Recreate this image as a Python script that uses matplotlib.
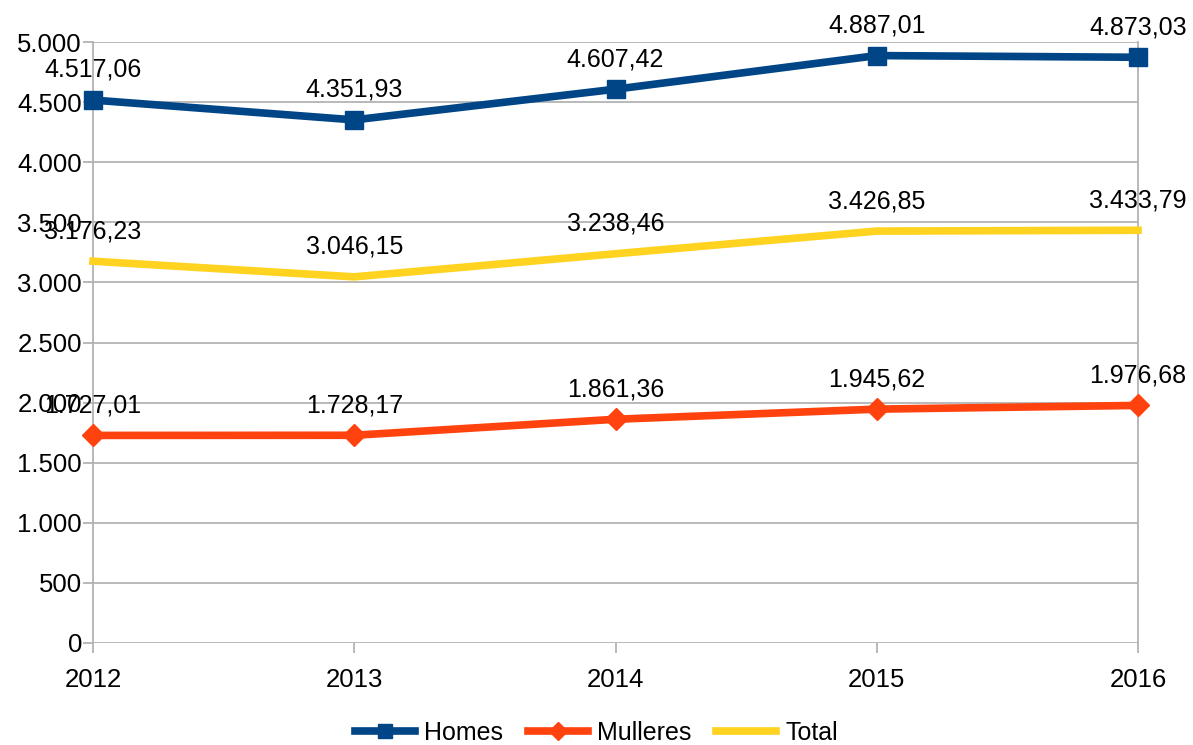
import matplotlib
matplotlib.use("Agg")
import matplotlib.pyplot as plt

# data
years = [2012, 2013, 2014, 2015, 2016]
homes = [4517.06, 4351.93, 4607.42, 4887.01, 4873.03]
mulleres = [1727.01, 1728.17, 1861.36, 1945.62, 1976.68]
total = [3176.23, 3046.15, 3238.46, 3426.85, 3433.79]
yticks = [0, 500, 1000, 1500, 2000, 2500, 3000, 3500, 4000, 4500, 5000]


def fmt(v, dec=2):
    s = f"{v:,.{dec}f}"
    return s.replace(",", "X").replace(".", ",").replace("X", ".")


plt.rcParams['font.family'] = ['Liberation Sans', 'DejaVu Sans']

fig = plt.figure(figsize=(11.93, 7.45), dpi=100)
ax = fig.add_axes([93 / 1193, 1 - 643 / 745, (1138 - 93) / 1193, (643 - 42) / 745])

ax.plot(years, homes, color='#004586', lw=5.5, marker='s', ms=13, label='Homes', clip_on=False, zorder=4)
ax.plot(years, mulleres, color='#ff420e', lw=5.5, marker='D', ms=11, label='Mulleres', clip_on=False, zorder=4)
ax.plot(years, total, color='#ffd320', lw=5.5, label='Total', clip_on=False, zorder=3)

# value labels
for series in (homes, mulleres, total):
    for x, y in zip(years, series):
        ax.annotate(fmt(y), (x, y), xytext=(0, 13), textcoords='offset points',
                    ha='center', va='bottom', fontsize=18, zorder=5)

ax.set_xlim(2012, 2016)
ax.set_ylim(0, 5000)
ax.set_xticks(years)
ax.set_xticklabels([str(y) for y in years])
ax.set_yticks(yticks)
ax.set_yticklabels([fmt(v, 0) for v in yticks])
ax.tick_params(axis='both', labelsize=18.5, color='#b3b3b3', length=7, width=1.3)
ax.tick_params(axis='x', pad=11)
ax.tick_params(axis='y', pad=1)

ax.grid(axis='y', color='#b3b3b3', lw=1.3)
ax.set_axisbelow(True)
for side in ('top', 'bottom'):
    ax.spines[side].set_visible(False)
for side in ('left', 'right'):
    ax.spines[side].set_color('#b3b3b3')
    ax.spines[side].set_linewidth(1.3)

fig.legend(loc='lower center', bbox_to_anchor=(0.5, -0.03), ncol=3, frameon=False,
           fontsize=18, handlelength=2.4, columnspacing=1.0, handletextpad=0.35,
           markerscale=0.8)

fig.savefig('out.png', dpi=100)
